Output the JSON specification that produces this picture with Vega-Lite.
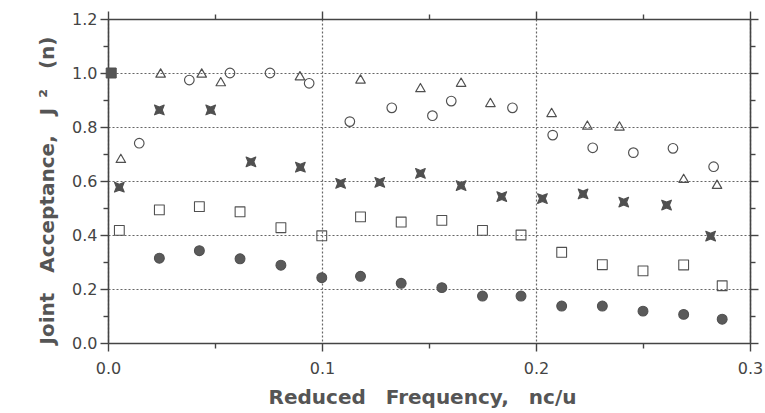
{
  "$schema": "https://vega.github.io/schema/vega-lite/v6.json",
  "width": 642,
  "height": 324,
  "autosize": "none",
  "padding": {"left": 108, "top": 19, "right": 15, "bottom": 70},
  "background": "white",
  "config": {
    "view": {"stroke": null},
    "axis": {
      "labelFont": "DejaVu Sans",
      "titleFont": "DejaVu Sans",
      "labelFontSize": 16,
      "labelColor": "#444",
      "labelFlush": false,
      "titleFontSize": 20,
      "titleFontWeight": "bold",
      "titleColor": "#555",
      "domainColor": "#444",
      "domainWidth": 1.6,
      "tickColor": "#444",
      "tickWidth": 1.4,
      "gridColor": "#666",
      "gridDash": [2, 2],
      "gridWidth": 1.2
    }
  },
  "data": {
    "values": [
      {"s": "fcirc", "x": 0.024, "y": 0.314},
      {"s": "fcirc", "x": 0.0427, "y": 0.342},
      {"s": "fcirc", "x": 0.0617, "y": 0.312},
      {"s": "fcirc", "x": 0.0808, "y": 0.288},
      {"s": "fcirc", "x": 0.0999, "y": 0.242},
      {"s": "fcirc", "x": 0.118, "y": 0.247},
      {"s": "fcirc", "x": 0.137, "y": 0.221},
      {"s": "fcirc", "x": 0.156, "y": 0.205},
      {"s": "fcirc", "x": 0.175, "y": 0.174},
      {"s": "fcirc", "x": 0.193, "y": 0.174},
      {"s": "fcirc", "x": 0.212, "y": 0.137},
      {"s": "fcirc", "x": 0.231, "y": 0.137},
      {"s": "fcirc", "x": 0.25, "y": 0.118},
      {"s": "fcirc", "x": 0.269, "y": 0.106},
      {"s": "fcirc", "x": 0.287, "y": 0.088},
      {"s": "square", "x": 0.0053, "y": 0.417},
      {"s": "square", "x": 0.024, "y": 0.493},
      {"s": "square", "x": 0.0427, "y": 0.505},
      {"s": "square", "x": 0.0617, "y": 0.486},
      {"s": "square", "x": 0.0808, "y": 0.427},
      {"s": "square", "x": 0.0999, "y": 0.397},
      {"s": "square", "x": 0.118, "y": 0.467},
      {"s": "square", "x": 0.137, "y": 0.448},
      {"s": "square", "x": 0.156, "y": 0.454},
      {"s": "square", "x": 0.175, "y": 0.417},
      {"s": "square", "x": 0.193, "y": 0.4},
      {"s": "square", "x": 0.212, "y": 0.336},
      {"s": "square", "x": 0.231, "y": 0.29},
      {"s": "square", "x": 0.25, "y": 0.267},
      {"s": "square", "x": 0.269, "y": 0.289},
      {"s": "square", "x": 0.287, "y": 0.212},
      {"s": "bowtie", "x": 0.0053, "y": 0.577},
      {"s": "bowtie", "x": 0.024, "y": 0.863},
      {"s": "bowtie", "x": 0.048, "y": 0.863},
      {"s": "bowtie", "x": 0.0668, "y": 0.671},
      {"s": "bowtie", "x": 0.0899, "y": 0.651},
      {"s": "bowtie", "x": 0.1087, "y": 0.591},
      {"s": "bowtie", "x": 0.127, "y": 0.595},
      {"s": "bowtie", "x": 0.146, "y": 0.628},
      {"s": "bowtie", "x": 0.165, "y": 0.583},
      {"s": "bowtie", "x": 0.184, "y": 0.542},
      {"s": "bowtie", "x": 0.203, "y": 0.535},
      {"s": "bowtie", "x": 0.222, "y": 0.552},
      {"s": "bowtie", "x": 0.241, "y": 0.522},
      {"s": "bowtie", "x": 0.261, "y": 0.511},
      {"s": "bowtie", "x": 0.2816, "y": 0.396},
      {"s": "ocirc", "x": 0.0146, "y": 0.74},
      {"s": "ocirc", "x": 0.038, "y": 0.974},
      {"s": "ocirc", "x": 0.057, "y": 1.0},
      {"s": "ocirc", "x": 0.0757, "y": 1.0},
      {"s": "ocirc", "x": 0.094, "y": 0.962},
      {"s": "ocirc", "x": 0.113, "y": 0.82},
      {"s": "ocirc", "x": 0.1326, "y": 0.871},
      {"s": "ocirc", "x": 0.1516, "y": 0.842},
      {"s": "ocirc", "x": 0.1604, "y": 0.896},
      {"s": "ocirc", "x": 0.189, "y": 0.871},
      {"s": "ocirc", "x": 0.2078, "y": 0.77},
      {"s": "ocirc", "x": 0.2265, "y": 0.723},
      {"s": "ocirc", "x": 0.2455, "y": 0.705},
      {"s": "ocirc", "x": 0.264, "y": 0.721},
      {"s": "ocirc", "x": 0.283, "y": 0.653},
      {"s": "tri", "x": 0.006, "y": 0.684},
      {"s": "tri", "x": 0.0246, "y": 1.0},
      {"s": "tri", "x": 0.0438, "y": 1.0},
      {"s": "tri", "x": 0.0527, "y": 0.968},
      {"s": "tri", "x": 0.0897, "y": 0.99},
      {"s": "tri", "x": 0.118, "y": 0.978},
      {"s": "tri", "x": 0.146, "y": 0.946},
      {"s": "tri", "x": 0.165, "y": 0.966},
      {"s": "tri", "x": 0.1787, "y": 0.891},
      {"s": "tri", "x": 0.2073, "y": 0.854},
      {"s": "tri", "x": 0.224, "y": 0.807},
      {"s": "tri", "x": 0.239, "y": 0.804},
      {"s": "tri", "x": 0.269, "y": 0.61},
      {"s": "tri", "x": 0.2846, "y": 0.588},
      {"s": "ref", "x": 0.0015, "y": 1.0}
    ]
  },
  "layer": [
    {
      "mark": {"type": "point", "opacity": 1, "strokeJoin": "round"},
      "encoding": {
        "x": {
          "field": "x", "type": "quantitative",
          "scale": {"domain": [0, 0.3], "nice": false, "zero": false},
          "axis": {
            "orient": "bottom",
            "title": "Reduced\u2003Frequency,\u2003nc/u",
            "values": [0, 0.05, 0.1, 0.15, 0.2, 0.25, 0.3],
            "labelExpr": "round(datum.value*20)%2==0 ? format(datum.value,'.1f') : ''",
            "tickSize": {"condition": {"test": "round(datum.value*20)%2==0", "value": 8}, "value": 5},
            "grid": true,
            "gridOpacity": {"condition": {"test": "round(datum.value*20)%2==0", "value": 1}, "value": 0},
            "labelPadding": 9,
            "titlePadding": 11,
            "titleX": 314
          }
        },
        "y": {
          "field": "y", "type": "quantitative",
          "scale": {"domain": [0, 1.2], "nice": false},
          "axis": {
            "orient": "left",
            "title": "Joint\u2003Acceptance,\u2003J\u2002²\u2002\u2002(n)",
            "values": [0, 0.1, 0.2, 0.3, 0.4, 0.5, 0.6, 0.7, 0.8, 0.9, 1.0, 1.1, 1.2],
            "labelExpr": "round(datum.value*10)%2==0 ? format(datum.value,'.1f') : ''",
            "tickSize": {"condition": {"test": "round(datum.value*10)%2==0", "value": 8}, "value": 5},
            "grid": true,
            "gridOpacity": {"condition": {"test": "round(datum.value*10)%2==0", "value": 1}, "value": 0},
            "labelPadding": 3,
            "titlePadding": 14,
            "titleY": 171
          }
        },
        "shape": {
          "field": "s", "type": "nominal", "legend": null,
          "scale": {
            "domain": ["ref", "fcirc", "square", "bowtie", "ocirc", "tri"],
            "range": ["square", "circle", "square", "M-1,-1L0,-0.6L1,-1L0.6,0L1,1L0,0.6L-1,1L-0.6,0Z", "circle", "triangle-up"]
          }
        },
        "fill": {
          "field": "s", "type": "nominal", "legend": null,
          "scale": {
            "domain": ["ref", "fcirc", "square", "bowtie", "ocirc", "tri"],
            "range": ["#555555", "#5a5a5a", "transparent", "#505050", "transparent", "transparent"]
          }
        },
        "strokeWidth": {
          "field": "s", "type": "nominal", "legend": null,
          "scale": {
            "domain": ["ref", "fcirc", "square", "bowtie", "ocirc", "tri"],
            "range": [1, 1.2, 1.8, 0.5, 1.8, 1.8]
          }
        },
        "stroke": {"value": "#505050"},
        "size": {
          "field": "s", "type": "nominal", "legend": null,
          "scale": {
            "domain": ["ref", "fcirc", "square", "bowtie", "ocirc", "tri"],
            "range": [100, 90, 100, 64, 70, 110]
          }
        }
      }
    },
    {
      "mark": {"type": "point", "opacity": 0},
      "encoding": {
        "x": {
          "field": "x", "type": "quantitative",
          "axis": {
            "orient": "top", "title": null, "labels": false,
            "values": [0, 0.05, 0.1, 0.15, 0.2, 0.25, 0.3],
            "tickSize": {"condition": {"test": "round(datum.value*20)%2==0", "value": 8}, "value": 5},
            "grid": false
          }
        },
        "y": {
          "field": "y", "type": "quantitative",
          "axis": {
            "orient": "right", "title": null, "labels": false,
            "values": [0, 0.1, 0.2, 0.3, 0.4, 0.5, 0.6, 0.7, 0.8, 0.9, 1.0, 1.1, 1.2],
            "tickSize": {"condition": {"test": "round(datum.value*10)%2==0", "value": 8}, "value": 5},
            "grid": false
          }
        }
      }
    }
  ],
  "resolve": {"axis": {"x": "independent", "y": "independent"}}
}
